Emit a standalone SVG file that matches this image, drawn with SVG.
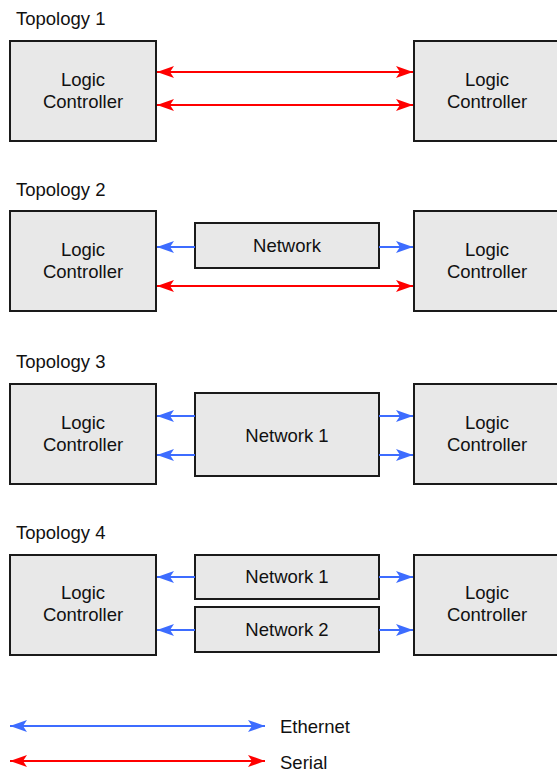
<svg xmlns="http://www.w3.org/2000/svg" width="557" height="772" viewBox="0 0 557 772">
<style>
.box{fill:#e8e8e8;stroke:#1a1a1a;stroke-width:2}
.t{font-family:"Liberation Sans",Arial,sans-serif;font-size:18.5px;fill:#111}
.c{text-anchor:middle}
.red{stroke:#ff0000;stroke-width:2.2;fill:none}
.blue{stroke:#3d6cff;stroke-width:2.2;fill:none}
</style>
<defs>
<marker id="rE" markerUnits="userSpaceOnUse" markerWidth="18" markerHeight="14" refX="17" refY="7" orient="auto"><path d="M0,1 L17,7 L0,13 L4,7 Z" fill="#ff0000"/></marker>
<marker id="rS" markerUnits="userSpaceOnUse" markerWidth="18" markerHeight="14" refX="1" refY="7" orient="auto"><path d="M18,1 L1,7 L18,13 L14,7 Z" fill="#ff0000"/></marker>
<marker id="bE" markerUnits="userSpaceOnUse" markerWidth="18" markerHeight="14" refX="17" refY="7" orient="auto"><path d="M0,1 L17,7 L0,13 L4,7 Z" fill="#3d6cff"/></marker>
<marker id="bS" markerUnits="userSpaceOnUse" markerWidth="18" markerHeight="14" refX="1" refY="7" orient="auto"><path d="M18,1 L1,7 L18,13 L14,7 Z" fill="#3d6cff"/></marker>
</defs>

<g id="titles">
<text class="t" x="16" y="25">Topology 1</text>
<text class="t" x="16" y="196">Topology 2</text>
<text class="t" x="16" y="368">Topology 3</text>
<text class="t" x="16" y="539">Topology 4</text>
</g>

<g id="t1-left"><rect class="box" x="10" y="41" width="146" height="100"/><text class="t c" x="83" y="86">Logic</text><text class="t c" x="83" y="108">Controller</text></g>
<g id="t1-right"><rect class="box" x="414" y="41" width="146" height="100"/><text class="t c" x="487" y="86">Logic</text><text class="t c" x="487" y="108">Controller</text></g>

<g id="t2-left"><rect class="box" x="10" y="211" width="146" height="100"/><text class="t c" x="83" y="256">Logic</text><text class="t c" x="83" y="278">Controller</text></g>
<g id="t2-right"><rect class="box" x="414" y="211" width="146" height="100"/><text class="t c" x="487" y="256">Logic</text><text class="t c" x="487" y="278">Controller</text></g>
<g id="t2-net"><rect class="box" x="195" y="223" width="184" height="45"/><text class="t c" x="287" y="252">Network</text></g>

<g id="t3-left"><rect class="box" x="10" y="384" width="146" height="100"/><text class="t c" x="83" y="429">Logic</text><text class="t c" x="83" y="451">Controller</text></g>
<g id="t3-right"><rect class="box" x="414" y="384" width="146" height="100"/><text class="t c" x="487" y="429">Logic</text><text class="t c" x="487" y="451">Controller</text></g>
<g id="t3-net"><rect class="box" x="195" y="393" width="184" height="83"/><text class="t c" x="287" y="442">Network 1</text></g>

<g id="t4-left"><rect class="box" x="10" y="555" width="146" height="100"/><text class="t c" x="83" y="599">Logic</text><text class="t c" x="83" y="621">Controller</text></g>
<g id="t4-right"><rect class="box" x="414" y="555" width="146" height="100"/><text class="t c" x="487" y="599">Logic</text><text class="t c" x="487" y="621">Controller</text></g>
<g id="t4-net1"><rect class="box" x="195" y="555" width="184" height="44"/><text class="t c" x="287" y="583">Network 1</text></g>
<g id="t4-net2"><rect class="box" x="195" y="607" width="184" height="45"/><text class="t c" x="287" y="636">Network 2</text></g>

<g id="connectors">
<line class="red" x1="157" y1="72" x2="413" y2="72" marker-start="url(#rS)" marker-end="url(#rE)"/>
<line class="red" x1="157" y1="105" x2="413" y2="105" marker-start="url(#rS)" marker-end="url(#rE)"/>

<line class="blue" x1="195" y1="247" x2="157" y2="247" marker-end="url(#bE)"/>
<line class="blue" x1="379" y1="247" x2="413" y2="247" marker-end="url(#bE)"/>
<line class="red" x1="157" y1="286" x2="413" y2="286" marker-start="url(#rS)" marker-end="url(#rE)"/>

<line class="blue" x1="195" y1="416" x2="157" y2="416" marker-end="url(#bE)"/>
<line class="blue" x1="195" y1="455" x2="157" y2="455" marker-end="url(#bE)"/>
<line class="blue" x1="379" y1="416" x2="413" y2="416" marker-end="url(#bE)"/>
<line class="blue" x1="379" y1="455" x2="413" y2="455" marker-end="url(#bE)"/>

<line class="blue" x1="195" y1="577" x2="157" y2="577" marker-end="url(#bE)"/>
<line class="blue" x1="195" y1="630" x2="157" y2="630" marker-end="url(#bE)"/>
<line class="blue" x1="379" y1="577" x2="413" y2="577" marker-end="url(#bE)"/>
<line class="blue" x1="379" y1="630" x2="413" y2="630" marker-end="url(#bE)"/>
</g>

<g id="legend">
<line class="blue" x1="10" y1="726" x2="265" y2="726" marker-start="url(#bS)" marker-end="url(#bE)"/>
<text class="t" x="280" y="733">Ethernet</text>
<line class="red" x1="10" y1="761" x2="265" y2="761" marker-start="url(#rS)" marker-end="url(#rE)"/>
<text class="t" x="280" y="769">Serial</text>
</g>
</svg>
